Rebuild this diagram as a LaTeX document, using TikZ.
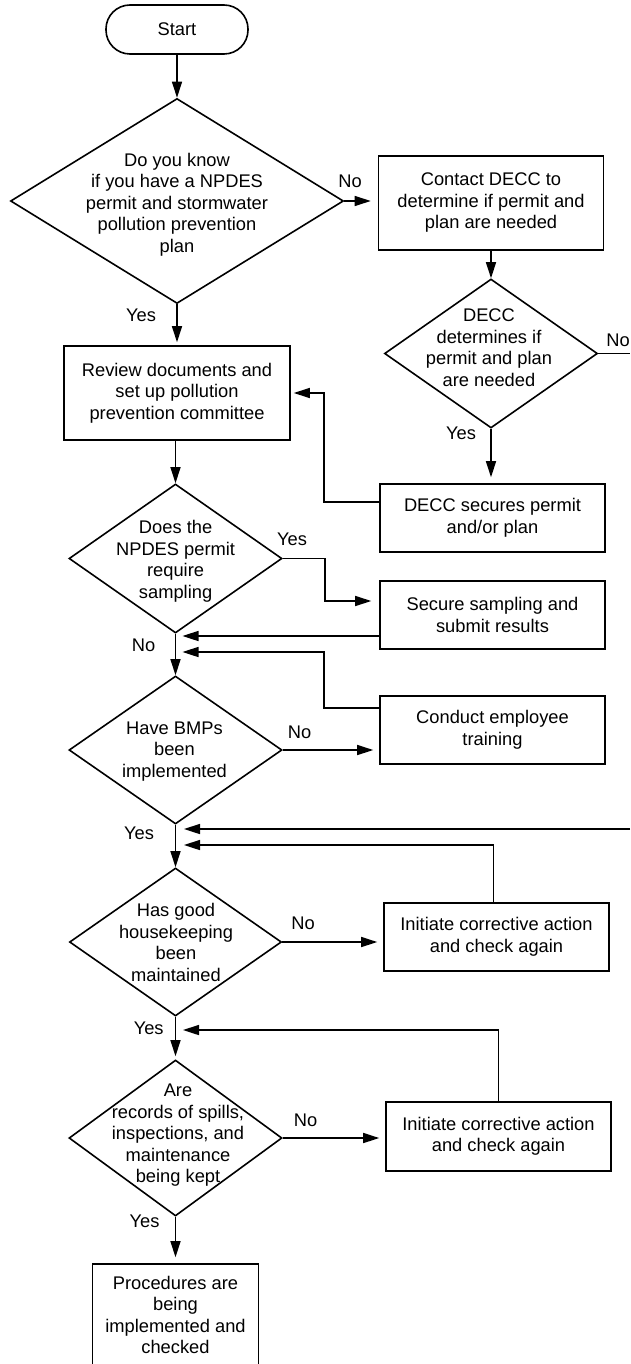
\documentclass[tikz,border=0pt]{standalone}
\usepackage{fontspec}
\setmainfont{Liberation Sans}
\usetikzlibrary{shapes.geometric,arrows.meta}
\begin{document}
\begin{tikzpicture}[x=1pt,y=-1pt,
  every node/.style={font=\fontsize{18.3}{21.5}\selectfont},
  lw/.style={line width=1.6pt},
  procbox/.style={draw, rectangle, lw, inner sep=0pt, align=center},
  dia/.style={draw, diamond, lw, inner sep=0pt},
  txt/.style={align=center, inner sep=0pt},
  lbl/.style={inner sep=0pt},
  arr/.style={lw, -{Triangle[length=16pt,width=10pt]}},
  ln/.style={lw}]
\useasboundingbox (0,0) rectangle (630,1364);
\clip (0,0) rectangle (630,1364);

% ---- nodes ----
\node[procbox, rounded corners=24pt, minimum width=142pt, minimum height=49pt] (start) at (177,29.5) {Start};

\node[dia, minimum width=333pt, minimum height=205pt] (d1) at (177,201) {};
\node[txt] (d1t) at (177,204.5) {Do you know\\if you have a NPDES\\permit and stormwater\\pollution prevention\\plan};

\node[procbox, minimum width=225pt, minimum height=94pt] (contact) at (491,203) {Contact DECC to\\determine if permit and\\plan are needed};

\node[dia, minimum width=213pt, minimum height=149pt] (decc) at (491,353.5) {};
\node[txt] (decct) at (489,347.5) {DECC\\determines if\\permit and plan\\are needed};

\node[procbox, minimum width=225pt, minimum height=68pt] (deccsec) at (492.5,518) {DECC secures permit\\and/or plan};

\node[procbox, minimum width=226pt, minimum height=94pt] (rev) at (177,393) {Review documents and\\set up pollution\\prevention committee};

\node[dia, minimum width=213pt, minimum height=149pt] (d2) at (175.5,558.5) {};
\node[txt] (d2t) at (175.6,561.5) {Does the\\NPDES permit\\require\\sampling};

\node[procbox, minimum width=225pt, minimum height=68pt] (secure) at (492.5,615) {Secure sampling and\\submit results};

\node[dia, minimum width=213pt, minimum height=148pt] (d3) at (175.5,750) {};
\node[txt] (d3t) at (174.5,751.3) {Have BMPs\\been\\implemented};

\node[procbox, minimum width=225pt, minimum height=68pt] (conduct) at (492.5,730) {Conduct employee\\training};

\node[dia, minimum width=212pt, minimum height=148pt] (d4) at (175.5,942) {};
\node[txt] (d4t) at (176,942.5) {Has good\\housekeeping\\been\\maintained};

\node[procbox, minimum width=225pt, minimum height=68pt] (corr1) at (496.5,937) {Initiate corrective action\\and check again};

\node[dia, minimum width=213pt, minimum height=156pt] (d5) at (175.5,1138) {};
\node[txt] (d5t) at (178,1135.5) {Are\\records of spills,\\inspections, and\\maintenance\\being kept};

\node[procbox, minimum width=225pt, minimum height=69pt] (corr2) at (498.5,1136.5) {Initiate corrective action\\and check again};

\node[procbox, minimum width=166pt, minimum height=102pt] (final) at (175.5,1315) {Procedures are\\being\\implemented and\\checked};

% ---- junction coordinates ----
\coordinate (eR1) at (630,353.5);
\coordinate (eR2) at (630,829);
\coordinate (ja) at (182.5,636);
\coordinate (jb) at (182.5,652);
\coordinate (jc) at (184,829);
\coordinate (jd) at (184,845);
\coordinate (je) at (183,1030);

% ---- connectors ----
\draw[arr] (start.south) -- (d1.north);
\draw[arr, shorten >=7pt] (d1.east) -- (d1.east -| contact.west);
\draw[arr] (contact.south) -- (decc.north);
\draw[arr, shorten >=3pt] (d1.south) -- (rev.north);
\draw[ln] (decc.east) -- (eR1);
\draw[arr, shorten >=6pt] (decc.south) -- (decc.south |- deccsec.north);
\draw[arr, shorten >=3pt] ([yshift=16pt]deccsec.west) -- ++(-55,0) |- (rev.east);
\draw[arr] (rev.south -| d2.north) -- (d2.north);
\draw[arr, shorten >=8pt] (d2.east) -- ++(42,0) |- ([yshift=14pt]secure.west);
\draw[arr] ([yshift=-21pt]secure.west) -- (ja);
\draw[arr] (d2.south) -- (d3.north);
\draw[arr] ([yshift=22pt]conduct.west) -- ++(-55,0) |- (jb);
\draw[arr, shorten >=6pt] (d3.east) -- (d3.east -| conduct.west);
\draw[arr] (d3.south) -- (d4.north);
\draw[arr] (eR2) -- (jc);
\draw[arr] ([xshift=-3pt]corr1.north) |- (jd);
\draw[arr, shorten >=6pt] (d4.east) -- (d4.east -| corr1.west);
\draw[arr, shorten >=3pt] (d4.south) -- (d5.north);
\draw[arr] (corr2.north) |- (je);
\draw[arr, shorten >=6pt] (d5.east) -- (d5.east -| corr2.west);
\draw[arr, shorten >=6pt] (d5.south) -- (final.north);

% ---- labels ----
\node[lbl] (l1) at (350,181) {No};
\node[lbl] (l2) at (141,315) {Yes};
\node[lbl] (l3) at (618,340) {No};
\node[lbl] (l4) at (461,433) {Yes};
\node[lbl] (l5) at (292,539) {Yes};
\node[lbl] (l6) at (143.6,645) {No};
\node[lbl] (l7) at (299.5,732) {No};
\node[lbl] (l8) at (139,833) {Yes};
\node[lbl] (l9) at (303,923) {No};
\node[lbl] (l10) at (148.7,1028) {Yes};
\node[lbl] (l11) at (305.5,1120) {No};
\node[lbl] (l12) at (144.6,1221) {Yes};
\end{tikzpicture}
\end{document}
